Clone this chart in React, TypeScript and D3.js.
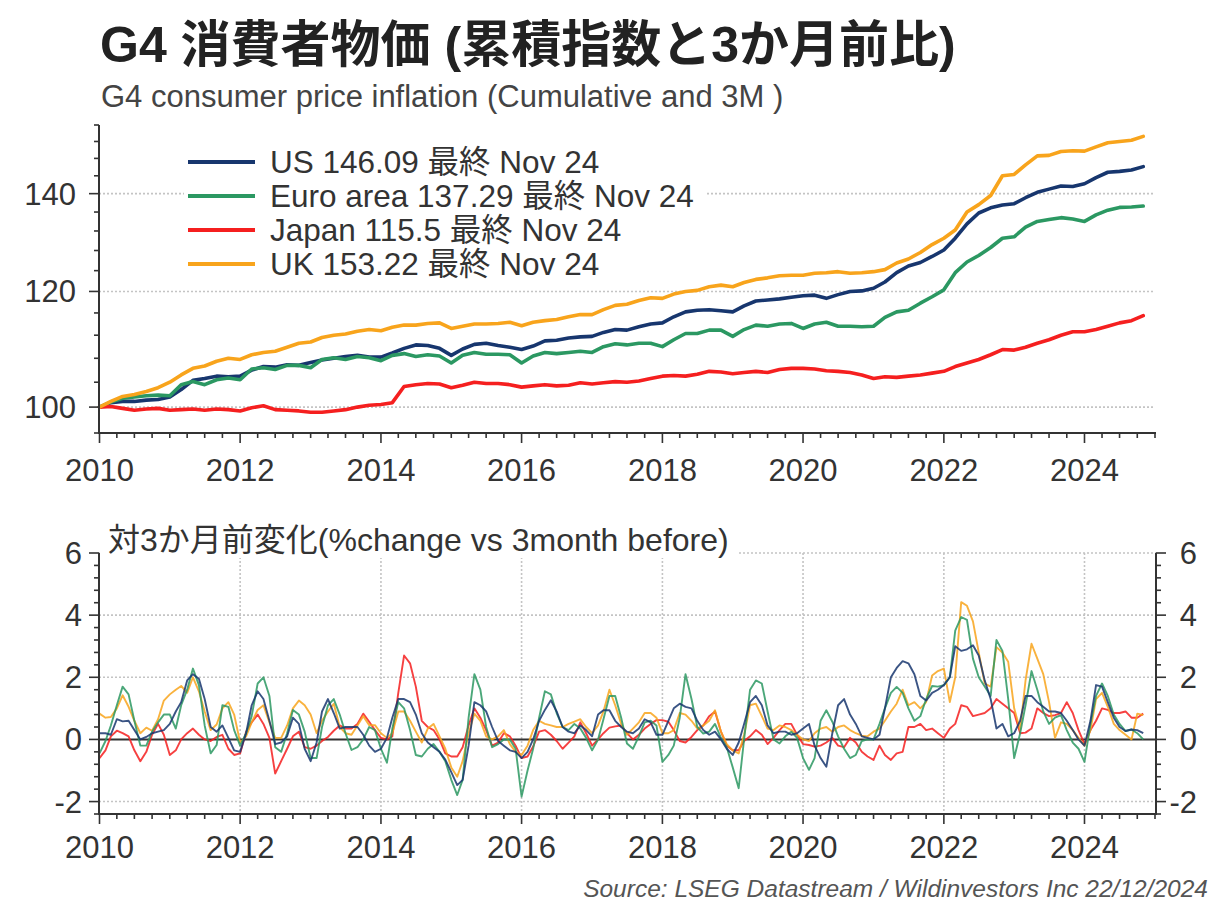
import React from "react";
import * as d3 from "d3";

const titleText = "G4 消費者物価 (累積指数と3か月前比)";
const subtitleText = "G4 consumer price inflation (Cumulative and 3M )";
const lowerTitleText = "対3か月前変化(%change vs 3month before)";
const sourceText = "Source: LSEG Datastream / Wildinvestors Inc 22/12/2024";

const seriesNames = ["US", "Euro area", "Japan", "UK"];
const lastValues = ["146.09", "137.29", "115.5", "153.22"];
const lastLabel = "最終 Nov 24";
const seriesColors = ["#17366e", "#2b9862", "#f51f1f", "#f8a41c"];

const yearLabels = ["2010", "2012", "2014", "2016", "2018", "2020", "2022", "2024"];
const indexTicks = [100, 120, 140];
const changeTicks = [-2, 0, 2, 4, 6];

// cumulative index (Jan 2010 = 100), every 2 months: Jan, Mar, May, Jul, Sep, Nov
const usIndex = [
  100, 100.7, 100.9, 100.9, 101.1, 101.2,
  101.6, 102.8, 104.3, 104.6, 105.0, 104.9,
  105.0, 106.0, 106.6, 106.5, 106.9, 106.8,
  107.3, 107.7, 108.0, 108.3, 108.5, 108.2,
  108.2, 108.9, 109.7, 110.3, 110.2, 109.7,
  108.5, 109.6, 110.4, 110.6, 110.2, 109.9,
  109.5, 110.1, 111.0, 111.1, 111.5, 111.7,
  111.8, 112.5, 113.0, 112.9, 113.5, 114.0,
  114.2, 115.3, 116.2, 116.5, 116.6, 116.4,
  116.2, 117.3, 118.2, 118.4, 118.6, 118.9,
  119.2, 119.3, 118.7, 119.4, 120.0, 120.1,
  120.6, 121.8, 123.6, 124.9, 125.6, 126.8,
  128.1, 130.5, 133.5, 135.8, 136.9, 137.5,
  137.8, 139.1, 140.3, 141.0, 141.7, 141.6,
  142.2, 143.6, 144.8, 145.0, 145.3, 146.09,
];
const euroIndex = [
  100, 100.8, 101.4, 101.6, 101.8, 101.9,
  101.8, 103.6, 104.1, 103.6, 104.4, 104.7,
  104.4, 106.2, 106.4, 106.1, 106.8, 106.8,
  106.4, 107.8, 108.1, 107.8, 108.3, 108.1,
  107.6, 108.5, 108.8, 108.3, 108.6, 108.4,
  107.2, 108.5, 109.0, 108.7, 108.7, 108.6,
  107.2, 108.4, 109.0, 108.8, 109.0, 109.2,
  109.0, 110.0, 110.5, 110.3, 110.6, 110.6,
  110.0, 111.2, 112.3, 112.3, 112.9, 112.9,
  111.8, 113.0, 113.8, 113.6, 114.0, 114.1,
  113.2, 114.0, 114.3, 113.6, 113.6, 113.5,
  113.6, 115.2, 116.2, 116.5, 117.8, 119.0,
  120.3, 123.6, 125.7, 127.0, 128.6, 130.5,
  130.8, 132.8, 134.0, 134.4, 134.8, 134.5,
  134.0, 135.4, 136.4, 137.0, 137.1, 137.29,
];
const japanIndex = [
  100, 100.1, 99.8, 99.5, 99.7, 99.8,
  99.5, 99.6, 99.7, 99.5, 99.7, 99.6,
  99.4, 99.9, 100.2, 99.6, 99.5, 99.4,
  99.2, 99.2, 99.4, 99.6, 100.0, 100.3,
  100.4, 100.7, 103.3, 103.6, 103.8, 103.7,
  103.1, 103.5, 104.0, 103.8, 103.8, 103.6,
  103.2, 103.4, 103.6, 103.4, 103.5, 103.9,
  103.7, 103.9, 104.1, 104.0, 104.2, 104.6,
  105.0, 105.1, 105.0, 105.3, 105.8, 105.7,
  105.4, 105.6, 105.8, 105.6, 106.1, 106.3,
  106.3, 106.2, 105.9, 105.8, 105.6, 105.2,
  104.6, 104.9, 104.8, 105.0, 105.2, 105.5,
  105.8, 106.6, 107.2, 107.8, 108.6, 109.5,
  109.4, 109.9, 110.6, 111.2, 112.0, 112.6,
  112.6, 113.0, 113.6, 114.2, 114.6, 115.5,
];
const ukIndex = [
  100, 100.9, 101.7, 102.0, 102.5, 103.1,
  104.0, 105.2, 106.3, 106.7, 107.5, 108.0,
  107.8, 108.6, 109.0, 109.2, 109.9, 110.6,
  110.8, 111.6, 112.0, 112.2, 112.7, 113.0,
  112.8, 113.4, 113.8, 113.8, 114.1, 114.2,
  113.2, 113.6, 114.0, 114.0, 114.1, 114.3,
  113.7, 114.3, 114.6, 114.8, 115.3, 115.7,
  115.7, 116.6, 117.4, 117.6, 118.3, 118.8,
  118.7, 119.5, 120.0, 120.2, 120.9, 121.2,
  120.9, 121.7, 122.3, 122.6, 123.0, 123.1,
  123.1, 123.5, 123.6, 123.8, 123.5, 123.6,
  123.8, 124.2, 125.5, 126.3, 127.6, 129.2,
  130.5, 132.2, 136.0, 137.6, 139.6, 144.0,
  144.3, 146.5, 148.6, 148.7, 149.6, 149.8,
  149.7, 150.7, 151.7, 152.0, 152.3, 153.22,
];

// % change vs 3 months before, monthly from Jan 2010 to Nov 2024
const usChange = [
  0.2, 0.2, 0.15, 0.65, 0.58, 0.6, 0.3, 0.0, 0.08, 0.2, 0.25, 0.3,
  0.5, 0.9, 1.2, 1.9, 2.1, 1.95, 1.3, 0.4, 0.25, 0.45, 0.05, -0.35,
  -0.4, 0.2, 1.1, 1.55, 1.3, 0.6, -0.15, -0.1, 0.1, 0.7, 0.5, -0.3,
  -0.7, -0.1, 0.9, 1.3, 0.85, 0.35, 0.4, 0.4, 0.4, 0.15, -0.2, -0.4,
  -0.3, 0.05, 0.7, 1.3, 1.3, 1.2, 0.8, 0.2, -0.1, -0.25, -0.4, -0.65,
  -1.05, -1.47, -1.3, -0.2, 1.2, 1.1, 0.9, 0.4, -0.05, -0.2, -0.35, -0.4,
  -0.6, -0.4, 0.0, 0.6, 0.95, 1.26, 0.9, 0.4, 0.25, 0.2, 0.45, 0.3,
  0.1, 0.8, 0.94, 0.94, 0.6, 0.4, 0.25, 0.2, 0.35, 0.65, 0.55, 0.15,
  0.15, 0.6, 1.0, 1.15, 1.05, 1.0, 0.6, 0.3, 0.15, 0.25, 0.0, -0.3,
  -0.5, -0.1, 0.5, 1.2, 1.4, 1.1, 0.45, 0.2, 0.25, 0.25, 0.15, 0.2,
  0.35, 0.5, -0.2, -0.6, -0.88, 0.2, 1.1, 1.3, 0.8, 0.5, 0.1, 0.05,
  0.0, 0.15, 1.0, 2.0, 2.3, 2.52, 2.45, 2.1, 1.4, 1.25, 1.5, 1.6,
  1.75, 2.0, 3.0, 2.85, 2.9, 3.03, 2.7, 1.9, 1.3, 0.35, 0.5, 0.1,
  0.2, 0.6, 1.4, 1.4, 1.2, 1.05, 0.9, 0.9, 0.85, 0.6, 0.3, 0.0,
  -0.2, 0.6, 1.75, 1.7, 1.2, 0.7, 0.4, 0.27, 0.32, 0.3, 0.2,
];
const euroChange = [
  -0.45, -0.05, 0.45, 1.1, 1.7, 1.45, 0.6, -0.2, -0.2, 0.25, 0.55, 0.8,
  0.8, 0.35, 1.1, 1.6, 2.28, 1.75, 0.45, -0.45, -0.18, 1.1, 1.05, 0.3,
  -0.2, 0.2, 0.75, 1.8, 2.0, 1.4, -0.25, -0.4, 0.2, 0.95, 0.8, 0.25,
  -0.6, -0.6, 0.4, 1.1, 1.3, 0.8, 0.2, -0.34, -0.25, 0.0, 0.4, 0.3,
  -0.3, -0.75, 0.35, 1.2, 1.0, 0.3, -0.5, -0.55, -0.3, -0.15, -0.4, -0.7,
  -1.3, -1.79, -1.3, 0.7, 2.1, 1.6, 0.4, -0.25, -0.15, 0.0, 0.0, -0.3,
  -1.84, -1.0, -0.3, 0.7, 1.55, 1.45, 0.85, 0.4, 0.3, 0.5, 0.35, 0.05,
  -0.35, 0.0, 0.65, 1.4, 1.4, 0.7, -0.13, -0.3, 0.1, 0.55, 0.6, 0.45,
  -0.72, -0.5, -0.2, 0.7, 2.1, 1.3, 0.4, 0.19, 0.25, 0.5, 0.05, -0.25,
  -0.9, -1.57, 0.0, 1.6, 1.9, 1.8, 0.9, 0.0, -0.13, 0.1, 0.25, 0.05,
  -0.6, -0.98, -0.6, 0.6, 0.94, 0.57, 0.1, -0.3, -0.6, -0.5, -0.05, 0.0,
  0.0, 0.5, 1.0, 1.5, 1.69, 1.5, 1.0, 0.6, 0.75, 1.3, 1.72, 1.7,
  1.75, 2.0, 3.5, 3.94, 3.85, 2.6, 2.0, 1.7, 1.4, 3.2, 2.85, 1.3,
  -0.6, 0.2, 1.1, 2.2, 1.6, 0.9, 0.5, 0.7, 0.78, 0.3, -0.1, -0.3,
  -0.72, 0.5, 1.4, 1.8, 1.4, 0.8, 0.5, 0.27, 0.32, 0.2, 0.0,
];
const japanChange = [
  -0.6, -0.35, 0.1, 0.28, 0.2, 0.1, -0.35, -0.7, -0.4, 0.15, 0.5, 0.15,
  -0.5, -0.35, 0.0, 0.2, 0.35, 0.15, 0.0, -0.05, 0.08, 0.15, -0.3, -0.5,
  -0.45, 0.25, 0.55, 0.8, 0.5, 0.05, -1.1, -0.7, -0.3, 0.1, 0.25, -0.25,
  -0.3, -0.2, -0.05, 0.08, 0.28, 0.45, 0.35, 0.35, 0.5, 0.83, 0.57, 0.3,
  0.05, 0.0, 0.1, 1.5, 2.7, 2.45, 1.7, 0.6, 0.4, 0.3, 0.0, -0.45,
  -0.55, -0.55, -0.25, 0.45, 1.0, 0.7, 0.3, -0.2, -0.1, 0.2, 0.1, -0.2,
  -0.6, -0.55, -0.23, 0.25, 0.3, 0.15, -0.05, -0.3, -0.1, 0.1, 0.55, 0.2,
  -0.2, 0.0, 0.2, 0.38, 0.42, 0.45, 0.2, 0.0, 0.15, 0.35, 0.5, 0.62,
  0.62, 0.57, 0.3, -0.05, -0.1, 0.08, 0.3, 0.45, 0.75, 0.9, 0.25, -0.2,
  -0.35, -0.35, -0.05, 0.1, 0.3, 0.15, -0.15, 0.05, 0.3, 0.5, 0.5, 0.15,
  -0.15, -0.18, -0.23, -0.2, -0.1, 0.05, -0.2, -0.25, 0.05, -0.1, -0.4, -0.55,
  -0.66, -0.2, -0.5, -0.66, -0.45, -0.4, 0.4, 0.4, 0.5, 0.3, 0.35, 0.2,
  0.05, 0.35, 0.5, 1.1, 1.05, 0.75, 0.8, 0.85, 1.0, 1.3, 1.15, 1.0,
  0.85, 0.2, 0.22, 0.35, 1.0, 0.85, 0.75, 0.78, 0.85, 1.2, 0.85, 0.3,
  -0.15, 0.3, 0.6, 1.0, 0.95, 0.85, 0.85, 0.9, 0.7, 0.7, 0.83,
];
const ukChange = [
  0.83, 0.7, 0.72, 1.0, 1.42, 1.05, 0.6, 0.2, 0.38, 0.28, 0.65, 1.25,
  1.45, 1.6, 1.72, 1.5, 2.0, 1.55, 0.9, 0.3, 0.48, 1.0, 1.2, 0.8,
  -0.1, 0.1, 0.55, 0.95, 1.1, 0.55, 0.05, 0.05, 0.45, 1.0, 1.25, 1.1,
  0.8, 0.2, 0.6, 0.9, 1.15, 0.4, 0.2, 0.15, 0.45, 0.75, 0.46, 0.46,
  0.2, 0.05, 0.2, 0.9, 0.9, 0.6, 0.25, -0.1, 0.35, 0.5, 0.1, -0.3,
  -0.9, -1.2, -0.7, 0.2, 0.83, 0.6, 0.1, 0.0, 0.1, 0.3, -0.15, -0.4,
  -0.5, -0.2, 0.3, 0.6, 0.5, 0.45, 0.4, 0.4, 0.5, 0.57, 0.65, 0.4,
  0.2, 0.45, 0.9, 1.6, 1.1, 0.5, 0.15, 0.35, 0.55, 0.85, 0.85, 0.7,
  0.2, 0.2, 0.3, 0.85, 0.8, 0.6, 0.35, 0.45, 0.6, 0.94, 0.25, -0.15,
  -0.35, -0.45, 0.15, 1.1, 1.15, 0.75, 0.35, 0.3, 0.45, 0.4, 0.3, 0.15,
  0.0, -0.05, 0.2, 0.35, 0.4, 0.25, 0.4, 0.45, 0.3, 0.2, 0.12, 0.1,
  0.25, 0.35, 0.6, 0.9, 1.15, 1.6, 1.1, 1.2, 1.0, 1.2, 2.06, 2.2,
  2.28, 1.2, 2.0, 4.42, 4.3, 3.8, 2.8, 1.8, 1.7, 2.97, 2.8, 2.5,
  1.0, 0.3, 1.9, 3.08, 2.6, 2.1, 1.2, 0.05, 0.55, 0.5, 0.3, 0.05,
  -0.2, 0.3, 1.3, 1.5, 1.05, 0.5, 0.3, 0.15, 0.0, 0.83, 0.78,
];

const indexSeries = [usIndex, euroIndex, japanIndex, ukIndex];
const changeSeries = [usChange, euroChange, japanChange, ukChange];

const FONT = "'Liberation Sans', Arial, 'Noto Sans CJK JP', sans-serif";
const AXIS = "#333";
const GRID = "#c4c4c4";

export default function App() {
  const start = new Date(2010, 0, 1);
  const end = new Date(2025, 0, 1);

  const x = d3.scaleTime().domain([start, end]).range([99.5, 1155]);
  const yTop = d3.scaleLog().domain([96, 156]).range([433, 125]);
  const yBot = d3.scaleLinear().domain([-2.4, 6]).range([814, 553]);

  const indexLine = d3
    .line<number>()
    .x((_, i) => x(d3.timeMonth.offset(start, i * 2)))
    .y((v) => yTop(v));
  const changeLine = d3
    .line<number>()
    .x((_, i) => x(d3.timeMonth.offset(start, i)))
    .y((v) => yBot(v));

  const quarters = d3.timeMonth.every(3)!.range(start, d3.timeDay.offset(end, 1));
  const isMajor = (d: Date) => d.getMonth() === 0 && d.getFullYear() % 2 === 0;
  const topMinor = d3.range(96, 157, 4);
  const botMinor = d3.range(-24, 61, 4).map((v) => v / 10);
  const yearDate = (y: string) => new Date(+y, 0, 1);

  const xL = 99;
  const xR = 1156;

  return (
    <div style={{ position: "absolute", left: 0, top: 0 }}>
      <svg width={1215} height={906} fontFamily={FONT} style={{ display: "block", background: "#fff" }}>
        {/* titles */}
        <text x={100} y={62} fontSize={50} fontWeight="bold" fill="#222">
          {titleText}
        </text>
        <text x={101} y={107} fontSize={31} fill="#444">
          {subtitleText}
        </text>

        {/* ---------- upper panel ---------- */}
        {indexTicks.map((t) => (
          <line key={"tg" + t} x1={xL} x2={1155} y1={yTop(t)} y2={yTop(t)} stroke={GRID} strokeWidth={1.6} strokeDasharray="2,2" />
        ))}

        {indexSeries.map((s, k) => (
          <path key={"ix" + k} d={indexLine(s) || ""} fill="none" stroke={seriesColors[k]} strokeWidth={3.6} strokeLinejoin="round" strokeLinecap="round" />
        ))}

        {/* legend */}
        <rect x={184} y={146} width={522} height={134} fill="#fff" />
        {seriesNames.map((n, k) => {
          const ly = 162 + k * 34;
          return (
            <g key={"lg" + k}>
              <line x1={188} x2={255} y1={ly} y2={ly} stroke={seriesColors[k]} strokeWidth={4} />
              <text x={270} y={ly + 11} fontSize={31.5} fill="#333">
                {`${n} ${lastValues[k]} ${lastLabel}`}
              </text>
            </g>
          );
        })}

        {/* upper axes */}
        <line x1={xL} x2={xL} y1={125} y2={434} stroke={AXIS} strokeWidth={2} />
        <line x1={xL} x2={1156} y1={433} y2={433} stroke={AXIS} strokeWidth={2} />
        {topMinor.map((t) => (
          <line key={"tt" + t} x1={xL} x2={indexTicks.includes(t) ? xL - 10 : xL - 5} y1={yTop(t)} y2={yTop(t)} stroke={AXIS} strokeWidth={1.6} />
        ))}
        {indexTicks.map((t) => (
          <text key={"tl" + t} x={76} y={yTop(t) + 11} fontSize={31} fill="#333" textAnchor="end">
            {t}
          </text>
        ))}
        {quarters.map((d, i) => (
          <line key={"tq" + i} x1={x(d)} x2={x(d)} y1={433} y2={isMajor(d) ? 443 : 438} stroke={AXIS} strokeWidth={1.6} />
        ))}
        {yearLabels.map((y) => (
          <text key={"ty" + y} x={x(yearDate(y))} y={481} fontSize={31} fill="#333" textAnchor="middle">
            {y}
          </text>
        ))}

        {/* ---------- lower panel ---------- */}
        {changeTicks.filter((t) => t !== 0).map((t) => (
          <line key={"bg" + t} x1={xL} x2={xR} y1={yBot(t)} y2={yBot(t)} stroke={GRID} strokeWidth={1.6} strokeDasharray="2,2" />
        ))}
        {yearLabels.slice(1).map((y) => (
          <line key={"bv" + y} x1={x(yearDate(y))} x2={x(yearDate(y))} y1={553} y2={814} stroke={GRID} strokeWidth={1.6} strokeDasharray="2,2" />
        ))}
        <rect x={100} y={518} width={638} height={40} fill="#fff" />
        <text x={108} y={551} fontSize={32} fill="#333">
          {lowerTitleText}
        </text>

        <line x1={xL} x2={xR} y1={yBot(0)} y2={yBot(0)} stroke={AXIS} strokeWidth={2} />

        {[2, 3, 1, 0].map((k) => (
          <path key={"ch" + k} d={changeLine(changeSeries[k]) || ""} fill="none" stroke={seriesColors[k]} strokeOpacity={0.85} strokeWidth={1.9} strokeLinejoin="round" />
        ))}

        {/* lower axes */}
        <line x1={xL} x2={xL} y1={553} y2={815} stroke={AXIS} strokeWidth={2} />
        <line x1={xR} x2={xR} y1={553} y2={815} stroke={AXIS} strokeWidth={2} />
        <line x1={xL} x2={xR} y1={814} y2={814} stroke={AXIS} strokeWidth={2} />
        {botMinor.map((t, i) => {
          const major = changeTicks.includes(t);
          return (
            <g key={"bt" + i}>
              <line x1={xL} x2={major ? xL - 10 : xL - 5} y1={yBot(t)} y2={yBot(t)} stroke={AXIS} strokeWidth={1.6} />
              <line x1={xR} x2={major ? xR + 10 : xR + 5} y1={yBot(t)} y2={yBot(t)} stroke={AXIS} strokeWidth={1.6} />
            </g>
          );
        })}
        {changeTicks.map((t) => (
          <g key={"bl" + t}>
            <text x={82} y={yBot(t) + 11} fontSize={31} fill="#333" textAnchor="end">
              {t}
            </text>
            <text x={1197} y={yBot(t) + 11} fontSize={31} fill="#333" textAnchor="end">
              {t}
            </text>
          </g>
        ))}
        {quarters.map((d, i) => (
          <line key={"bq" + i} x1={x(d)} x2={x(d)} y1={814} y2={isMajor(d) ? 824 : 819} stroke={AXIS} strokeWidth={1.6} />
        ))}
        {yearLabels.map((y) => (
          <text key={"by" + y} x={x(yearDate(y))} y={858} fontSize={31} fill="#333" textAnchor="middle">
            {y}
          </text>
        ))}

        <text x={1208} y={897} fontSize={24.5} fontStyle="italic" fill="#555" textAnchor="end">
          {sourceText}
        </text>
      </svg>
    </div>
  );
}
